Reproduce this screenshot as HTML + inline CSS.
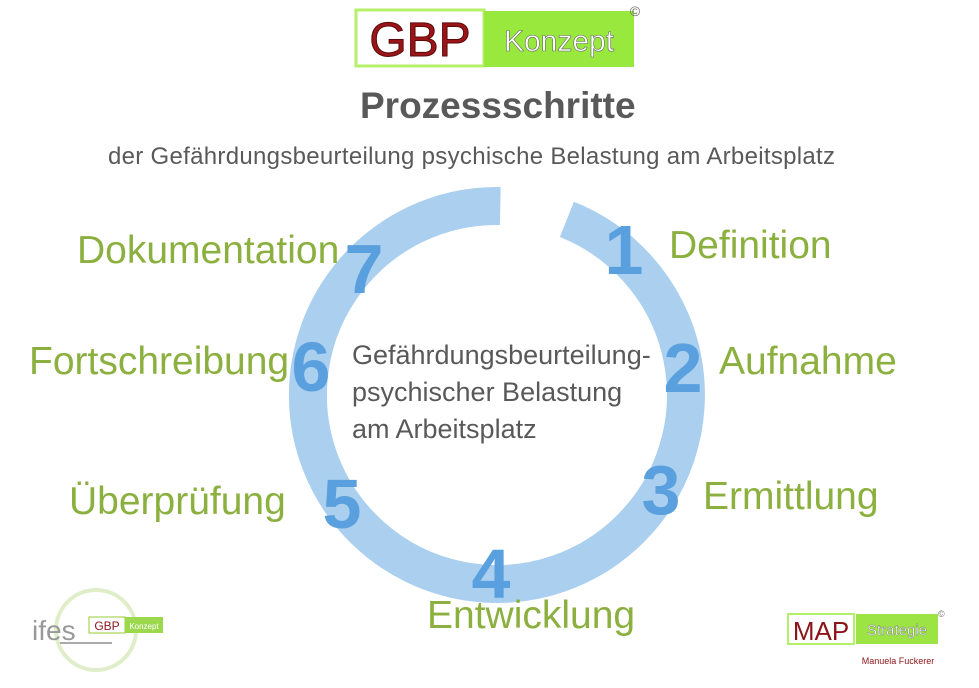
<!DOCTYPE html>
<html><head><meta charset="utf-8"><style>
body{margin:0;width:979px;height:688px;background:#fff;position:relative;overflow:hidden;font-family:"Liberation Sans",sans-serif}
.t{position:absolute;white-space:nowrap}
.g{color:#8bb03f;font-size:39px}
</style></head><body>
<svg width="979" height="688" style="position:absolute;left:0;top:0">
<path d="M 566.9 219.4 A 189 189 0 1 1 500.3 206" fill="none" stroke="#aacfef" stroke-width="38"/>
<g font-family="Liberation Sans, sans-serif" font-weight="bold" font-size="70" fill="#5aa0de" text-anchor="middle">
<text x="624" y="274">1</text><text x="683" y="392">2</text><text x="661" y="514">3</text>
<text x="491" y="598">4</text><text x="342" y="528">5</text><text x="311" y="391">6</text><text x="364" y="293">7</text>
</g>
<rect x="356" y="10" width="128" height="56" fill="#fff" stroke="#b6f06a" stroke-width="3"/>
<text x="420" y="56" font-family="Liberation Sans,sans-serif" font-size="48" fill="#9b1518" stroke="#5a0a0a" stroke-width="1" text-anchor="middle">GBP</text>
<rect x="484" y="11" width="150" height="56" fill="#98e83e"/>
<text x="559" y="51" font-family="Liberation Sans,sans-serif" font-size="30" fill="#fff" stroke="#666" stroke-width="0.6" text-anchor="middle">Konzept</text>
<text x="635" y="16" font-family="Liberation Sans,sans-serif" font-size="14" fill="#666" text-anchor="middle">©</text>
<circle cx="96" cy="630" r="40" fill="none" stroke="#dfeec9" stroke-width="4"/>
<text x="32" y="640" font-family="Liberation Sans,sans-serif" font-size="28" fill="#999">ifes</text>
<rect x="89" y="617" width="36" height="16" fill="#fff" stroke="#9c3" stroke-width="1"/>
<text x="107" y="630" font-family="Liberation Sans,sans-serif" font-size="12" fill="#8b1518" text-anchor="middle">GBP</text>
<rect x="125" y="617" width="38" height="16" fill="#9bd84e"/>
<text x="144" y="629" font-family="Liberation Sans,sans-serif" font-size="8" fill="#fff" text-anchor="middle">Konzept</text>
<rect x="60" y="642" width="52" height="2" fill="#aaa"/>
<rect x="788" y="614" width="66" height="30" fill="#fff" stroke="#b6f06a" stroke-width="2"/>
<text x="821" y="640" font-family="Liberation Sans,sans-serif" font-size="26" fill="#8b1518" text-anchor="middle">MAP</text>
<rect x="856" y="614" width="82" height="30" fill="#9be444"/>
<text x="897" y="635" font-family="Liberation Sans,sans-serif" font-size="15" fill="#fff" stroke="#777" stroke-width="0.4" text-anchor="middle">Strategie</text>
<text x="938" y="617" font-family="Liberation Sans,sans-serif" font-size="9" fill="#777">©</text>
<text x="898" y="664" font-family="Liberation Sans,sans-serif" font-size="9" fill="#8b1518" text-anchor="middle">Manuela Fuckerer</text>
</svg>
<div class="t" style="left:360px;top:85px;font-size:37px;font-weight:bold;color:#595959">Prozessschritte</div>
<div class="t" style="left:108px;top:143px;font-size:24px;letter-spacing:0.3px;color:#595959">der Gefährdungsbeurteilung psychische Belastung am Arbeitsplatz</div>
<div class="t" style="left:352px;top:337px;font-size:27px;line-height:37px;color:#595959">Gefährdungsbeurteilung-<br>psychischer Belastung<br>am Arbeitsplatz</div>
<div class="t g" style="left:669px;top:224px">Definition</div>
<div class="t g" style="left:719px;top:340px">Aufnahme</div>
<div class="t g" style="left:703px;top:475px">Ermittlung</div>
<div class="t g" style="left:427px;top:594px">Entwicklung</div>
<div class="t g" style="left:69px;top:480px">Überprüfung</div>
<div class="t g" style="left:29px;top:340px">Fortschreibung</div>
<div class="t g" style="left:77px;top:229px">Dokumentation</div>
</body></html>
